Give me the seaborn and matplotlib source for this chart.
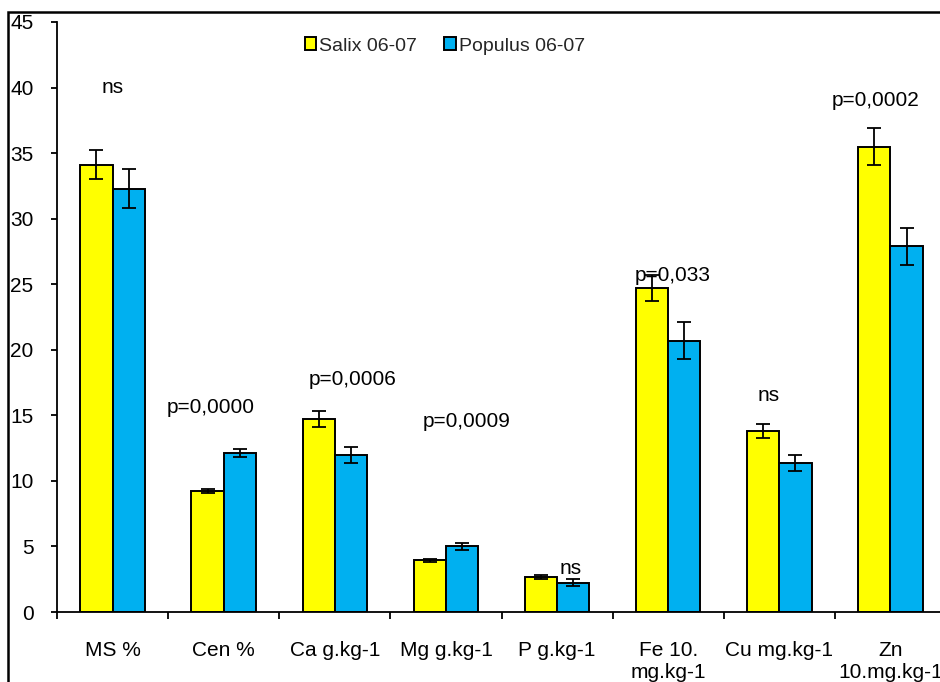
import pandas as pd
import matplotlib.pyplot as plt
import seaborn as sns
from matplotlib.patches import Rectangle
from matplotlib.ticker import FixedLocator

# values
categories = ['MS %', 'Cen %', 'Ca g.kg-1', 'Mg g.kg-1', 'P g.kg-1',
              'Fe 10.\nmg.kg-1', 'Cu mg.kg-1', 'Zn\n10.mg.kg-1']
series_names = ['Salix 06-07', 'Populus 06-07']
salix = [34.1, 9.2, 14.7, 3.95, 2.65, 24.7, 13.8, 35.5]
populus = [32.3, 12.15, 12.0, 5.0, 2.25, 20.7, 11.35, 27.9]
salix_err = [1.1, 0.15, 0.6, 0.1, 0.15, 1.0, 0.55, 1.4]
populus_err = [1.45, 0.3, 0.6, 0.3, 0.3, 1.4, 0.6, 1.4]
notes = ['ns', 'p=0,0000', 'p=0,0006', 'p=0,0009', 'ns', 'p=0,033', 'ns', 'p=0,0002']
note_x = [0.0, 0.88, 2.16, 3.19, 4.12, 5.04, 5.9, 6.87]
note_y = [40.0, 15.6, 17.7, 14.5, 3.35, 25.7, 16.5, 39.05]
colors = {'Salix 06-07': '#FFFF00', 'Populus 06-07': '#00B0F0'}

df = pd.DataFrame({
    'cat': categories * 2,
    'series': [series_names[0]] * len(categories) + [series_names[1]] * len(categories),
    'value': salix + populus,
})

sns.set_theme(style="white")
plt.rcParams['font.family'] = ['Liberation Sans', 'DejaVu Sans']

fig = plt.figure(figsize=(9.4, 6.82), dpi=100)
ax = fig.add_axes([57 / 940, 70 / 682, 889 / 940, 590 / 682])

sns.barplot(data=df, x='cat', y='value', hue='series', hue_order=series_names,
            palette=colors, saturation=1, width=0.58, gap=0,
            edgecolor='black', linewidth=1.4, errorbar=None, ax=ax)

for cont, errs in zip(ax.containers, [salix_err, populus_err]):
    xs = [b.get_x() + b.get_width() / 2 for b in cont]
    ys = [b.get_height() for b in cont]
    ax.errorbar(xs, ys, yerr=errs, fmt='none', ecolor='black',
                elinewidth=1.3, capsize=5, capthick=1.3)

for txt, x, y in zip(notes, note_x, note_y):
    ax.text(x, y, txt, ha='center', va='center', fontsize=15, color='black')

ax.set_ylim(0, 45)
ax.set_xlim(-0.5, len(categories) - 0.5)
ax.set_yticks(range(0, 46, 5))
ax.set_xlabel('')
ax.set_ylabel('')
ax.tick_params(axis='y', direction='out', length=4, width=1.3, pad=13,
               labelsize=15, left=True, color='black', labelcolor='black')
ax.tick_params(axis='x', which='major', length=0, pad=21, labelsize=15,
               labelcolor='black')
ax.xaxis.set_minor_locator(FixedLocator([i - 0.5 for i in range(len(categories) + 1)]))
ax.tick_params(axis='x', which='minor', direction='out', length=5, width=1.3,
               bottom=True, color='black')
for lbl in ax.get_xticklabels():
    lbl.set_verticalalignment('top')
for s in ['top', 'right']:
    ax.spines[s].set_visible(False)
for s in ['left', 'bottom']:
    ax.spines[s].set_color('black')
    ax.spines[s].set_linewidth(1.3)

ax.legend(loc='center', bbox_to_anchor=((445 - 57) / 889, (612 - 46) / 590),
          ncol=2, frameon=False, fontsize=14, handlelength=0.6, handleheight=0.6,
          handletextpad=0.15, columnspacing=1.4, borderpad=0)

fig.add_artist(Rectangle((8 / 940, -0.1), 1.2, 1.082, transform=fig.transFigure,
                         fill=False, edgecolor='black', linewidth=1.8))

fig.savefig('out.png', dpi=100)
